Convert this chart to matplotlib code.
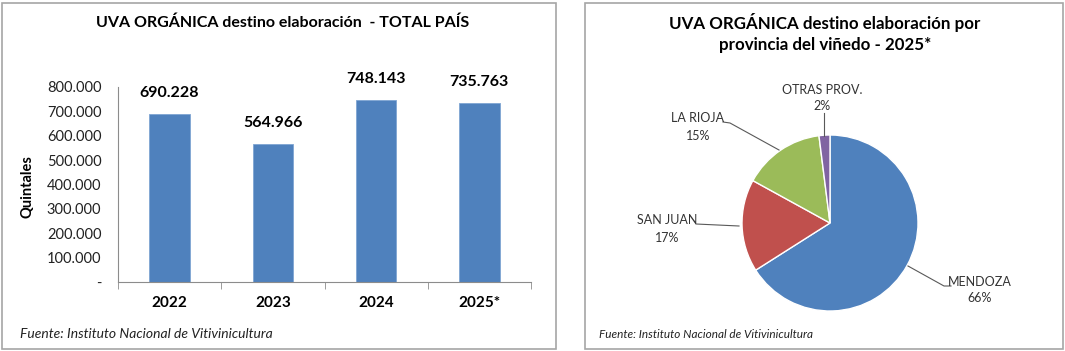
import matplotlib.pyplot as plt
from matplotlib.patches import Rectangle

plt.rcParams['font.family'] = ['Lato', 'DejaVu Sans']

# datos
anios = ['2022', '2023', '2024', '2025*']
quintales = [690228, 564966, 748143, 735763]

provincias = ['MENDOZA', 'SAN JUAN', 'LA RIOJA', 'OTRAS PROV.']
porcentajes = [66, 17, 15, 2]
colores_pie = ['#4F81BD', '#C0504D', '#9BBB59', '#8064A2']

W, H = 1065, 351
fig = plt.figure(figsize=(W / 100, H / 100), dpi=100)

# capa de fondo en pixeles (y hacia arriba)
bg = fig.add_axes([0, 0, 1, 1])
bg.set_xlim(0, W)
bg.set_ylim(0, H)
bg.axis('off')

def py(y):
    return H - y

bg.add_patch(Rectangle((2, py(349)), 554, 346, fill=False, edgecolor='#a6a6a6', lw=1.2))
bg.add_patch(Rectangle((585, py(349)), 478, 346, fill=False, edgecolor='#a6a6a6', lw=1.2))

# ---- barras ----
ax = fig.add_axes([118 / W, (H - 282) / H, 413 / W, (282 - 87) / H])
x = range(len(anios))
ax.bar(x, quintales, width=0.39, color='#4F81BD', edgecolor='#7fa5d3', lw=0.6)
ax.set_xlim(-0.5, 3.5)
ax.set_ylim(0, 800000)
ax.set_yticks(range(0, 800001, 100000))
ax.set_yticklabels(['-'] + ['{:,}'.format(v).replace(',', '.') for v in range(100000, 800001, 100000)],
                   fontsize=10.5, color='#222222')
ax.tick_params(axis='y', length=0, pad=12)
ax.set_xticks(list(x))
ax.set_xticklabels(anios, fontsize=11, fontweight='bold')
ax.tick_params(axis='x', length=0, pad=10)
ax.set_xticks([-0.5, 0.5, 1.5, 2.5, 3.5], minor=True)
ax.tick_params(axis='x', which='minor', length=5, color='#8c8c8c', direction='out')
for s in ['top', 'right']:
    ax.spines[s].set_visible(False)
ax.spines['left'].set_color('#8c8c8c')
ax.spines['bottom'].set_color('#8c8c8c')
for i, v in enumerate(quintales):
    ax.annotate('{:,}'.format(v).replace(',', '.'), (i, v), xytext=(0, 10),
                textcoords='offset points', ha='center', va='bottom',
                fontsize=11.5, fontweight='bold')

bg.text(283, py(23), 'UVA ORGÁNICA destino elaboración  - TOTAL PAÍS', ha='center', va='center',
        fontsize=11.5, fontweight='bold')
bg.text(27, py(187), 'Quintales', rotation=90, ha='center', va='center', fontsize=10.5, fontweight='bold')
bg.text(20, py(334), 'Fuente: Instituto Nacional de Vitivinicultura', ha='left', va='center',
        fontsize=10, style='italic', color='#222222')

# ---- torta ----
cx, cy, r = 830, py(223), 88
bg.pie(porcentajes, colors=colores_pie, startangle=90, counterclock=False,
       center=(cx, cy), radius=r, wedgeprops=dict(edgecolor='white', linewidth=1.0))
bg.set_xlim(0, W)
bg.set_ylim(0, H)
bg.set_aspect('auto')
bg.axis('off')

bg.text(825, py(23), 'UVA ORGÁNICA destino elaboración por', ha='center', va='center',
        fontsize=12.2, fontweight='bold')
bg.text(825, py(45), 'provincia del viñedo - 2025*', ha='center', va='center',
        fontsize=12.2, fontweight='bold')

etiquetas = [
    (980, 290, [(908, 266), (944, 286), (951, 286)]),
    (667, 229, [(696, 224), (739, 226)]),
    (698, 127, [(723, 122), (730, 123), (779, 150)]),
    (822, 98, [(824, 113), (824, 136)]),
]
for (tx, ty, pts), nombre, p in zip(etiquetas, provincias, porcentajes):
    bg.text(tx, py(ty), '{}\n{}%'.format(nombre, p), ha='center', va='center',
            fontsize=9, color='#333333', linespacing=1.5)
    bg.plot([q[0] for q in pts], [py(q[1]) for q in pts], color='#595959', lw=0.8)

bg.text(599, py(334), 'Fuente: Instituto Nacional de Vitivinicultura', ha='left', va='center',
        fontsize=8.5, style='italic', color='#222222')

fig.savefig('out.png', dpi=100)
